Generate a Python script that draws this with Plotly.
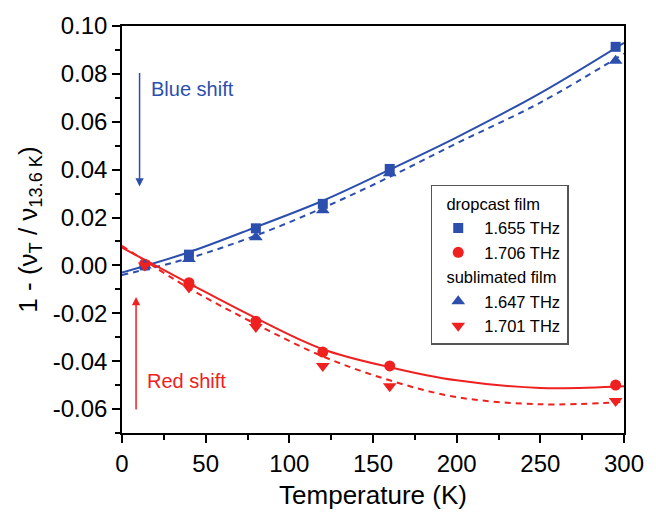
import plotly.graph_objects as go

# Measured points
T = [13.6, 40, 80, 120, 160, 295]
drop_1655 = [0.000, 0.0045, 0.0155, 0.0257, 0.0403, 0.0913]
drop_1706 = [0.0005, -0.0072, -0.0233, -0.0362, -0.0420, -0.0500]
subl_1647 = [0.000, 0.0027, 0.0118, 0.0230, 0.0385, 0.0855]
subl_1701 = [0.000, -0.0092, -0.0257, -0.0420, -0.0505, -0.0566]

# Fit curves
fit_T = [0, 40, 80, 120, 160, 200, 250, 300]
fit_1655 = [-0.003, 0.0055, 0.016, 0.027, 0.040, 0.0535, 0.072, 0.093]
fit_1647 = [-0.004, 0.0030, 0.0125, 0.024, 0.037, 0.051, 0.068, 0.0885]
fit_1706 = [0.0074, -0.0075, -0.022, -0.035, -0.0425, -0.048, -0.0512, -0.0505]
fit_1701 = [0.0082, -0.0095, -0.0245, -0.038, -0.048, -0.055, -0.058, -0.057]

# Tick labels
y_tickvals = [-0.06, -0.04, -0.02, 0.00, 0.02, 0.04, 0.06, 0.08, 0.10]
y_ticktext = ["-0.06", "-0.04", "-0.02", "0.00", "0.02", "0.04", "0.06", "0.08", "0.10"]
x_tickvals = [0, 50, 100, 150, 200, 250, 300]
x_ticktext = ["0", "50", "100", "150", "200", "250", "300"]

BLUE = "#2c4fae"
RED = "#ef2020"
FONT = "Liberation Sans, Arial, sans-serif"

fig = go.Figure()

# fit lines
for y, col, dash in [(fit_1655, BLUE, "solid"), (fit_1647, BLUE, "6px,5px"),
                     (fit_1706, RED, "solid"), (fit_1701, RED, "6px,5px")]:
    fig.add_trace(go.Scatter(x=fit_T, y=y, mode="lines", showlegend=False,
                             line=dict(color=col, width=2, dash=dash, shape="spline", smoothing=1.0),
                             hoverinfo="skip"))

# markers
fig.add_trace(go.Scatter(x=T, y=drop_1655, mode="markers", name="1.655 THz",
                         legendgroup="drop", legendgrouptitle_text="  dropcast film",
                         marker=dict(symbol="square", size=10, color=BLUE)))
fig.add_trace(go.Scatter(x=T, y=drop_1706, mode="markers", name="1.706 THz",
                         legendgroup="drop",
                         marker=dict(symbol="circle", size=11, color=RED)))
fig.add_trace(go.Scatter(x=T, y=subl_1647, mode="markers", name="1.647 THz",
                         legendgroup="subl", legendgrouptitle_text="  sublimated film",
                         marker=dict(symbol="triangle-up", size=12, color=BLUE)))
fig.add_trace(go.Scatter(x=T, y=subl_1701, mode="markers", name="1.701 THz",
                         legendgroup="subl",
                         marker=dict(symbol="triangle-down", size=12, color=RED)))

fig.update_layout(
    width=656, height=517,
    margin=dict(l=122, r=22, t=26, b=80),
    paper_bgcolor="white", plot_bgcolor="white",
    font=dict(family=FONT, color="black", size=24),
    legend=dict(x=0.615, y=0.61, xanchor="left", yanchor="top",
                bordercolor="#555555", borderwidth=1.5, bgcolor="white",
                font=dict(family=FONT, size=16.5, color="black"),
                grouptitlefont=dict(family=FONT, size=16.5, color="black"),
                tracegroupgap=0, traceorder="grouped", itemwidth=42),
    annotations=[
        dict(x=10.5, y=0.033, ax=10.5, ay=0.081, xref="x", yref="y", axref="x", ayref="y",
             showarrow=True, arrowhead=2, arrowsize=1.1, arrowwidth=1.5, arrowcolor=BLUE, text=""),
        dict(x=16.4, y=0.0736, xref="x", yref="y", text="Blue shift", showarrow=False,
             xanchor="left", yanchor="middle", font=dict(family=FONT, size=20, color=BLUE)),
        dict(x=8.4, y=-0.0132, ax=8.4, ay=-0.0608, xref="x", yref="y", axref="x", ayref="y",
             showarrow=True, arrowhead=2, arrowsize=1.1, arrowwidth=1.5, arrowcolor=RED, text=""),
        dict(x=14, y=-0.0484, xref="x", yref="y", text="Red shift", showarrow=False,
             xanchor="left", yanchor="middle", font=dict(family=FONT, size=20, color=RED)),
    ],
)

fig.update_xaxes(range=[0, 300], tickvals=x_tickvals, ticktext=x_ticktext,
                 showgrid=False, zeroline=False,
                 showline=True, linecolor="black", linewidth=1.5, mirror=True,
                 ticks="outside", ticklen=8, tickwidth=1.5, tickcolor="black",
                 minor=dict(dtick=25, tick0=0, ticks="outside", ticklen=5, tickwidth=1.5, tickcolor="black"),
                 tickfont=dict(size=24),
                 title=dict(text="Temperature (K)", font=dict(size=26), standoff=10))
fig.update_yaxes(range=[-0.07, 0.10], tickvals=y_tickvals, ticktext=y_ticktext,
                 showgrid=False, zeroline=False,
                 showline=True, linecolor="black", linewidth=1.5, mirror=True,
                 ticks="outside", ticklen=8, tickwidth=1.5, tickcolor="black",
                 minor=dict(dtick=0.01, tick0=0, ticks="outside", ticklen=5, tickwidth=1.5, tickcolor="black"),
                 tickfont=dict(size=24),
                 title=dict(text="1 - (ν<sub>T</sub> / ν<sub>13.6 K</sub>)", font=dict(size=26), standoff=8))

fig.write_html("out.html")
